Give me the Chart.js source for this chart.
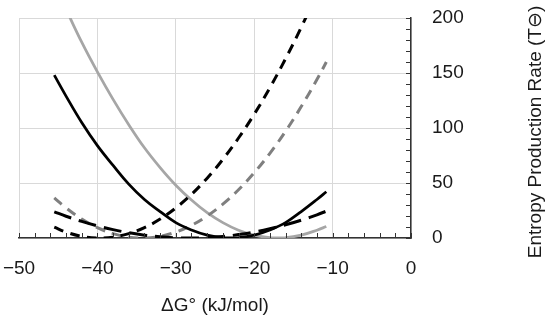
<!DOCTYPE html>
<html>
<head>
<meta charset="utf-8">
<script src="https://cdn.jsdelivr.net/npm/chart.js@4/dist/chart.umd.min.js"></script>
<style>
  html, body { margin: 0; padding: 0; background: #fff; }
  canvas { display: block; }
</style>
</head>
<body>
<canvas id="chartEntropy" width="550" height="324"></canvas>
<script>
// nilai
const xValues = [-45.5, -44, -42, -40, -38, -36, -34, -32, -30, -28, -26, -24, -22, -20, -18, -16, -14, -12, -10.8];
const solidBlack = [148, 129, 105, 84, 66, 49, 35, 24, 14, 7.3, 2.6, 0.3, 0.3, 2.6, 7.3, 14, 24, 35, 42];
const solidGray = [231, 208, 178, 151, 126, 103, 82, 64, 48, 34.5, 23, 14, 7.1, 2.6, 0.3, 0.3, 2.6, 7.1, 10.5];
const dashGray = [36.4, 27.3, 17.2, 9.4, 4.0, 0.8, 0, 1.5, 5.4, 11.5, 20, 30.8, 43.9, 59.3, 77, 97, 119.5, 144, 160];
const dashBlack = [9.8, 5.4, 1.5, 0, 0.8, 4.0, 9.4, 17.2, 27.3, 39.7, 54.4, 71.5, 90.9, 112.5, 136.6, 163, 191.5, 222.5, 242];
const dashBlackLow = [23.8, 19.8, 15.1, 11.0, 7.6, 4.8, 2.6, 1.1, 0.2, 0, 0.4, 1.4, 3.1, 5.4, 8.4, 12.0, 16.2, 21.1, 24.4];

const xTickLabels = ["\u221250", "\u221240", "\u221230", "\u221220", "\u221210", "0"];
const yTickLabels = ["0", "50", "100", "150", "200"];
const xTitle = "\u0394G\u00b0 (kJ/mol)";
const yTitle = "Entropy Production Rate (T\u2296)";

const textColor = "#1a1a1a";
const fontFamily = "'Liberation Sans', Arial, sans-serif";

function toPoints(ys) {
  return xValues.map((x, i) => ({ x: x, y: ys[i] }));
}

// tanda kecil pada paksi + tajuk paksi kanan
const extras = {
  id: "extras",
  afterDraw(chart) {
    const ctx = chart.ctx;
    const xs = chart.scales.x;
    const ys = chart.scales.y;
    const area = chart.chartArea;
    ctx.save();
    ctx.strokeStyle = "#333";
    ctx.lineWidth = 1;
    ctx.beginPath();
    for (let v = -50; v <= 0; v += 2) {
      const px = Math.round(xs.getPixelForValue(v)) + 0.5;
      ctx.moveTo(px, area.bottom);
      ctx.lineTo(px, area.bottom - 5);
    }
    for (let v = 0; v <= 200; v += 10) {
      const py = Math.round(ys.getPixelForValue(v)) + 0.5;
      ctx.moveTo(area.right, py);
      ctx.lineTo(area.right - 5, py);
    }
    ctx.stroke();

    ctx.translate(536, 132);
    ctx.rotate(-Math.PI / 2);
    ctx.fillStyle = textColor;
    ctx.font = "19px " + fontFamily;
    ctx.textAlign = "center";
    ctx.textBaseline = "middle";
    ctx.fillText(yTitle, 0, 0);
    ctx.restore();
  }
};

const chart = new Chart(document.getElementById("chartEntropy"), {
  type: "line",
  data: {
    datasets: [
      { data: toPoints(solidBlack), borderColor: "#000", borderWidth: 2.75 },
      { data: toPoints(dashBlackLow), borderColor: "#000", borderWidth: 3, borderDash: [18, 8] },
      { data: toPoints(dashBlack), borderColor: "#000", borderWidth: 3, borderDash: [10, 7] },
      { data: toPoints(dashGray), borderColor: "#7f7f7f", borderWidth: 3, borderDash: [10, 7] },
      { data: toPoints(solidGray), borderColor: "#a6a6a6", borderWidth: 2.75 }
    ]
  },
  options: {
    responsive: false,
    animation: false,
    devicePixelRatio: 1,
    layout: { padding: { top: 18, left: 19, right: 0, bottom: 0 } },
    elements: {
      point: { radius: 0 },
      line: { tension: 0.4, fill: false }
    },
    plugins: {
      legend: { display: false },
      tooltip: { enabled: false }
    },
    scales: {
      x: {
        type: "linear",
        min: -50,
        max: 0,
        afterFit: s => { s.height = 86; },
        ticks: {
          stepSize: 10,
          autoSkip: false,
          maxRotation: 0,
          padding: 0,
          color: textColor,
          font: { family: fontFamily, size: 19 },
          callback: (v, i) => xTickLabels[i]
        },
        grid: { color: "#d9d9d9", lineWidth: 1, drawTicks: true, tickLength: 19, tickColor: "rgba(0,0,0,0)" },
        border: { color: "#333", width: 1.5 },
        title: {
          display: true,
          text: xTitle,
          color: textColor,
          font: { family: fontFamily, size: 19 },
          padding: { top: 0, bottom: 7 }
        }
      },
      y: {
        position: "right",
        min: 0,
        max: 200,
        afterFit: s => { s.width = 139; },
        ticks: {
          stepSize: 50,
          padding: 0,
          color: textColor,
          font: { family: fontFamily, size: 19 },
          callback: (v, i) => yTickLabels[i]
        },
        grid: { color: "#d9d9d9", lineWidth: 1, drawTicks: true, tickLength: 21, tickColor: "rgba(0,0,0,0)" },
        border: { color: "#333", width: 1.5 }
      }
    }
  },
  plugins: [extras]
});
</script>
</body>
</html>
